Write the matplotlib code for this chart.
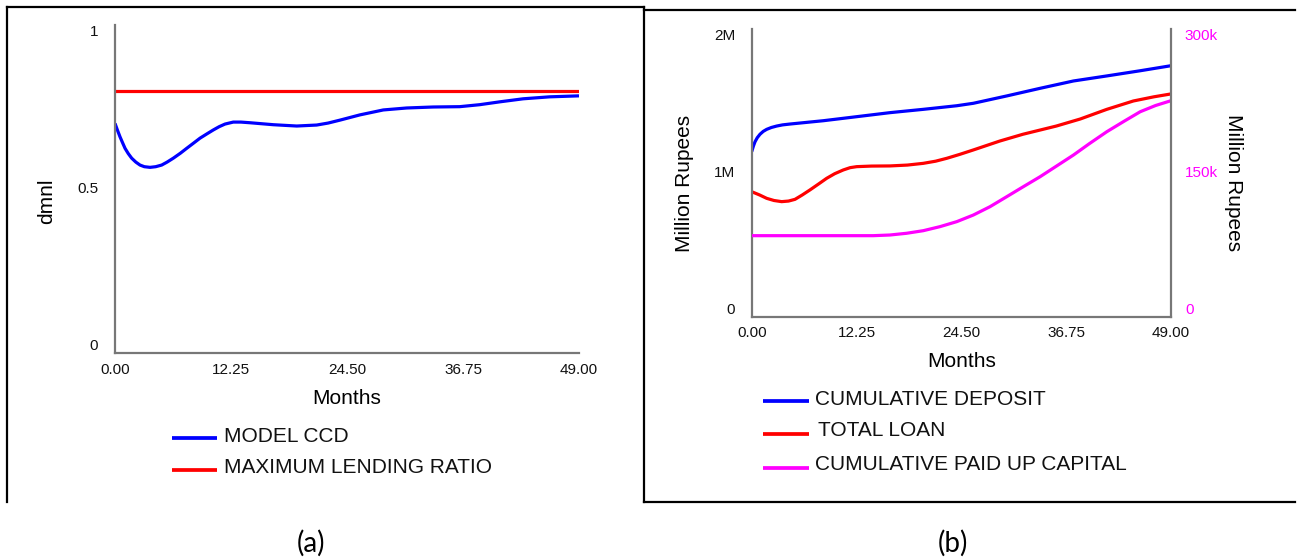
import matplotlib
matplotlib.use("Agg")
import matplotlib.pyplot as plt
from matplotlib.lines import Line2D

plt.rcParams['font.family'] = ['Liberation Sans', 'DejaVu Sans']

# ---------------- data ----------------
x_ticks = [0.0, 12.25, 24.5, 36.75, 49.0]

# panel (a)
ccd_t = [0, 0.25, 0.53, 0.8, 1.06, 1.4, 1.76, 2.2, 2.64, 3.1, 3.70, 4.3, 4.93,
         5.5, 6.16, 6.9, 7.57, 8.3, 8.98, 9.7, 10.38, 11.0, 11.62, 12.49, 13.3,
         14.26, 16.72, 19.19, 21.30, 22.5, 23.76, 25.87, 28.33, 30.8, 33.6,
         36.4, 38.5, 40.7, 43.1, 45.9, 49.0]
ccd_v = [0.700, 0.680, 0.659, 0.641, 0.624, 0.608, 0.594, 0.582, 0.573, 0.568,
         0.566, 0.568, 0.573, 0.582, 0.594, 0.609, 0.624, 0.640, 0.655, 0.668,
         0.680, 0.690, 0.698, 0.704, 0.704, 0.702, 0.696, 0.692, 0.695, 0.701,
         0.710, 0.726, 0.741, 0.747, 0.750, 0.751, 0.757, 0.766, 0.775, 0.781,
         0.784]
mlr_t = [0, 49.0]
mlr_v = [0.8, 0.8]
a_yticks = [0, 0.5, 1]
a_yticklabels = ['0', '0.5', '1']

# panel (b)
dep_t = [0, 0.2, 0.39, 0.65, 0.97, 1.35, 1.75, 2.3, 2.92, 3.6, 4.48, 8.37,
         12.27, 16.16, 20.05, 23.96, 25.9, 29.8, 33.7, 37.6, 41.5, 45.4, 49.0]
dep_v = [1.146, 1.185, 1.215, 1.243, 1.267, 1.287, 1.301, 1.314, 1.324, 1.332,
         1.338, 1.361, 1.389, 1.417, 1.440, 1.465, 1.482, 1.533, 1.586, 1.637,
         1.672, 1.708, 1.743]  # million
loan_t = [0, 0.9, 1.75, 2.6, 3.5, 4.3, 5.06, 5.9, 6.8, 7.8, 8.76, 9.7, 10.7,
          11.5, 12.27, 14.0, 16.16, 18.2, 20.05, 21.5, 22.8, 24.3, 25.9, 29.0,
          31.7, 35.6, 38.4, 41.5, 44.6, 47.0, 49.0]
loan_v = [0.868, 0.846, 0.822, 0.807, 0.799, 0.803, 0.815, 0.845, 0.880, 0.921,
          0.961, 0.993, 1.019, 1.035, 1.042, 1.046, 1.047, 1.053, 1.065, 1.080,
          1.100, 1.127, 1.158, 1.220, 1.267, 1.324, 1.373, 1.440, 1.498, 1.527,
          1.547]  # million
cap_t = [0, 14.2, 16.16, 18.1, 20.05, 22.0, 23.96, 25.9, 27.85, 29.8, 31.7,
         33.7, 35.6, 37.6, 39.5, 41.5, 43.5, 45.4, 47.2, 49.0]
cap_v = [84.4, 84.4, 85.1, 86.9, 89.6, 93.8, 99.0, 105.9, 114.6, 125.0, 135.2,
         145.8, 156.8, 168.4, 180.5, 192.7, 203.5, 213.5, 220.0, 225.0]  # thousand
b_left_ticks = [0, 1, 2]
b_left_labels = ['0', '1M', '2M']
b_right_ticks = [0, 150, 300]
b_right_labels = ['0', '150k', '300k']

# ---------------- figure ----------------
W, H = 1301, 559
fig = plt.figure(figsize=(W / 100, H / 100), dpi=100)

def fx(px):
    return px / W

def fy(py):
    return 1 - py / H

SPINE = '#777777'
LW = 2.3
TICK_FS = 11
LAB_FS = 15


def style_axes(ax):
    for s in ['top', 'right']:
        ax.spines[s].set_visible(False)
    for s in ['left', 'bottom']:
        ax.spines[s].set_color(SPINE)
        ax.spines[s].set_linewidth(1.6)
    ax.tick_params(length=0, labelsize=TICK_FS, colors='#111111')
    ax.tick_params(axis='x', pad=7)
    ax.tick_params(axis='y', pad=12)
    ax.set_xlim(0, 49)
    ax.set_xticks(x_ticks)
    ax.set_xticklabels(['%.2f' % v for v in x_ticks])
    ax.set_xlabel('Months', fontsize=LAB_FS)


def set_va(labels):
    vas = ['bottom', 'center', 'top']
    for lab, va in zip(labels, vas):
        lab.set_va(va)


# panel (a)
axa = fig.add_axes([fx(115), fy(353), fx(579 - 115), (353 - 25) / H])
style_axes(axa)
axa.set_ylim(0, 1)
axa.set_yticks(a_yticks)
axa.set_yticklabels(a_yticklabels)
set_va(axa.get_yticklabels())
axa.plot(ccd_t, ccd_v, color='#0000FF', lw=LW, solid_capstyle='butt',
         solid_joinstyle='round')
axa.plot(mlr_t, mlr_v, color='#FF0000', lw=LW, solid_capstyle='butt')
axa.set_ylabel('dmnl', fontsize=LAB_FS)
axa.yaxis.set_label_coords((56 - 115) / 464, (353 - 201) / 328)
axa.xaxis.set_label_coords(0.5, -(389 - 353) / 328)

# panel (b)
axb = fig.add_axes([fx(751.7), fy(316.7), fx(1171 - 751.7), (316.7 - 28.7) / H])
style_axes(axb)
axb.set_ylim(0, 2)
axb.set_yticks(b_left_ticks)
axb.set_yticklabels(b_left_labels)
set_va(axb.get_yticklabels())
axb.set_ylabel('Million Rupees', fontsize=LAB_FS)
axb.yaxis.set_label_coords((694 - 751.7) / 419.3, (316.7 - 183) / 288)
axb.xaxis.set_label_coords(0.5, -(352 - 316.7) / 288)
axb2 = axb.twinx()
axb2.set_ylim(0, 300)
for s in ['top', 'left', 'bottom']:
    axb2.spines[s].set_visible(False)
axb2.spines['right'].set_color(SPINE)
axb2.spines['right'].set_linewidth(1.6)
axb2.set_yticks(b_right_ticks)
axb2.set_yticklabels(b_right_labels)
axb2.tick_params(length=0, labelsize=TICK_FS, colors='#FF00FF', pad=10)
set_va(axb2.get_yticklabels())
axb2.set_ylabel('Million Rupees', fontsize=LAB_FS, rotation=270, va='center')
axb2.yaxis.set_label_coords((1234 - 751.7) / 419.3, (316.7 - 183) / 288)

axb.plot(dep_t, dep_v, color='#0000FF', lw=LW, solid_capstyle='butt',
         solid_joinstyle='round')
axb.plot(loan_t, loan_v, color='#FF0000', lw=LW, solid_capstyle='butt',
         solid_joinstyle='round')
axb2.plot(cap_t, cap_v, color='#FF00FF', lw=LW, solid_capstyle='butt',
          solid_joinstyle='round')

# legends drawn as figure-level line samples + text
def legend_item(x0, x1, y_line, x_text, y_text, color, text):
    fig.add_artist(Line2D([fx(x0), fx(x1)], [fy(y_line), fy(y_line)],
                          color=color, lw=LW + 0.4, solid_capstyle='butt'))
    fig.text(fx(x_text), fy(y_text), text, fontsize=LAB_FS, ha='left',
             va='center', color='#111111')

legend_item(172, 216.6, 437.5, 224, 436.6, '#0000FF', 'MODEL CCD')
legend_item(172, 216.6, 470, 224, 467.7, '#FF0000', 'MAXIMUM LENDING RATIO')
legend_item(763.4, 809.4, 400.7, 815.3, 399.6, '#0000FF', 'CUMULATIVE DEPOSIT')
legend_item(763.4, 809.4, 434.4, 817.9, 431, '#FF0000', 'TOTAL LOAN')
legend_item(763.4, 809.4, 467.7, 815.3, 464.9, '#FF00FF', 'CUMULATIVE PAID UP CAPITAL')

# panel frames
def fline(xs, ys):
    fig.add_artist(Line2D([fx(x) for x in xs], [fy(y) for y in ys],
                          color='black', lw=1.6, solid_capstyle='projecting'))

fline([7, 7], [7, 502])
fline([7, 644], [7, 7])
fline([644, 644], [7, 502])
fline([644, 1295], [10, 10])
fline([644, 1295], [502, 502])

# captions
fig.text(fx(311), fy(543), '(a)', fontsize=20, ha='center', va='center',
         family=['Lato', 'DejaVu Sans'])
fig.text(fx(953), fy(543), '(b)', fontsize=20, ha='center', va='center',
         family=['Lato', 'DejaVu Sans'])

fig.savefig('out.png', dpi=100)
